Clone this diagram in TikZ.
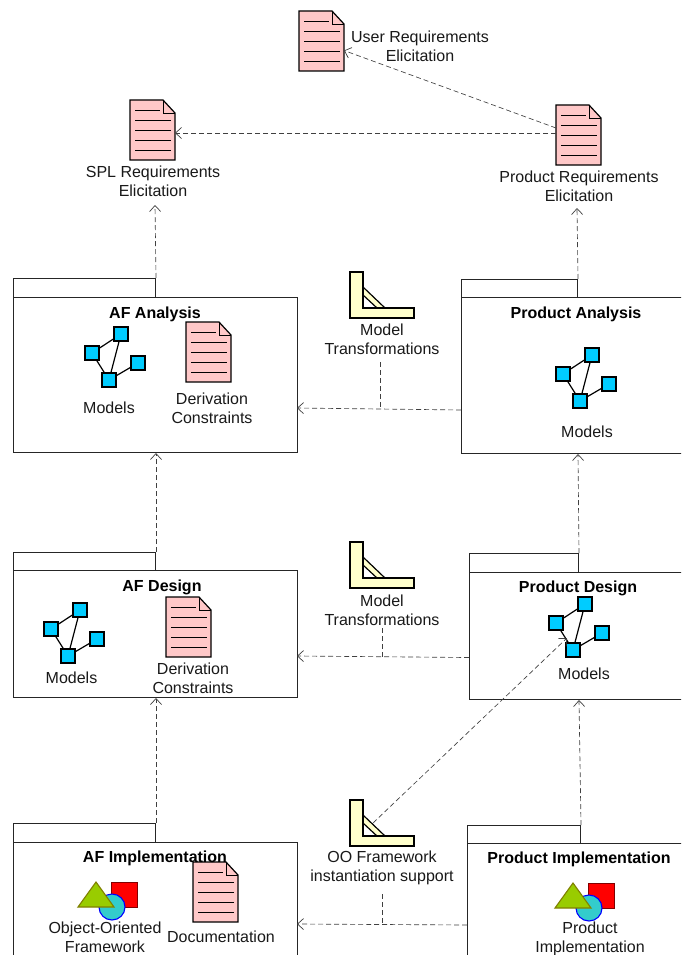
\documentclass[tikz,border=0pt]{standalone}
\usepackage{fontspec}
\setmainfont{Liberation Sans}
\usetikzlibrary{arrows.meta,calc}
\definecolor{docpink}{HTML}{FFC8C8}
\definecolor{cyanbox}{HTML}{00CCFF}
\definecolor{lyellow}{HTML}{FFFFCC}
\definecolor{trifill}{HTML}{99CC00}
\definecolor{triline}{HTML}{808000}
\definecolor{circfill}{HTML}{33CCCC}
\definecolor{sqline}{HTML}{800000}
\tikzset{
  x=1pt,y=-1pt,
  lbl/.style={font=\fontsize{16}{19}\selectfont,align=center,inner sep=0pt,text=black!90},
  blbl/.style={font=\fontsize{16}{19}\selectfont\bfseries,align=center,inner sep=0pt},
  pkg/.style={draw=black!85,line width=1pt,fill=white,inner sep=0pt,anchor=north west},
  ghost/.style={inner sep=0pt,anchor=north west},
  dep/.style={draw=black!75,line width=.65pt,dash pattern=on 5pt off 3pt,-{Straight Barb[length=6pt,width=11pt,line width=.7pt]}},
  stem/.style={draw=black!75,line width=.65pt,dash pattern=on 5pt off 3pt},
  icon/.style={draw=black,line width=1.2pt},
  mbox/.style={draw=black,line width=1.2pt,fill=cyanbox,minimum size=14pt,inner sep=0pt},
}
% name, x, y (top left)
\newcommand{\docicon}[3]{%
  \node[ghost,minimum width=45pt,minimum height=60pt] (#1) at (#2,#3) {};
  \begin{scope}[shift={(#2,#3)}]
    \draw[icon,fill=docpink,line join=miter] (0,0) -- (33,0) -- (45,13) -- (45,60) -- (0,60) -- cycle;
    \draw[icon,line width=.7pt] (33,0) -- (33,13) -- (45,13);
    \draw[black,line width=.9pt] (5,10)--(30,10) (5,20)--(41,20) (5,30)--(41,30) (5,40)--(41,40) (5,50)--(41,50);
  \end{scope}}
% name, x, y (centre of left square)
\newcommand{\modelsicon}[3]{%
  \begin{scope}[shift={(#2,#3)}]
    \draw[icon] (0,0) -- (29,-19) (29,-19) -- (17,27) (0,0) -- (17,27) (17,27) -- (46,10);
    \node[mbox] (#1a) at (0,0) {};
    \node[mbox] (#1b) at (29,-19) {};
    \node[mbox] (#1c) at (46,10) {};
    \node[mbox] (#1d) at (17,27) {};
  \end{scope}}
% name, x, y (top left of L)
\newcommand{\toolicon}[3]{%
  \node[ghost,minimum width=64pt,minimum height=46pt] (#1) at (#2,#3) {};
  \begin{scope}[shift={(#2,#3)}]
    \draw[icon,fill=lyellow,line join=miter] (13,15) -- (35,36) -- (27,36) -- (13,23) -- cycle;
    \draw[icon,fill=lyellow,line join=miter] (0,0) -- (13,0) -- (13,36) -- (64,36) -- (64,46) -- (0,46) -- cycle;
  \end{scope}}
% name, x, y (triangle apex)
\newcommand{\shapesicon}[3]{%
  \node[inner sep=0pt,minimum size=1pt] (#1) at (#2,#3) {};
  \begin{scope}[shift={(#2,#3)}]
    \draw[draw=sqline,line width=.9pt,fill=red] (15,0) rectangle (41,25);
    \draw[draw=blue,line width=1.1pt,fill=circfill] (16,25) circle (13);
    \draw[draw=triline,line width=1.1pt,fill=trifill,line join=miter] (0,0) -- (18,25) -- (-18,25) -- cycle;
  \end{scope}}
\begin{document}
\begin{tikzpicture}
\useasboundingbox (0,0) rectangle (681,955);
\clip (0,0) rectangle (681,955);
\fill[white] (0,0) rectangle (681,955);
% packages
\node[pkg,minimum width=142pt,minimum height=19pt] (afatab) at (13,278) {};
\node[pkg,minimum width=284pt,minimum height=155pt] (afa) at (13,297) {};
\node[pkg,minimum width=116pt,minimum height=18pt] (patab) at (461,279) {};
\node[pkg,minimum width=240pt,minimum height=156pt] (pa) at (461,297) {};
\node[pkg,minimum width=142pt,minimum height=18pt] (afdtab) at (13,552) {};
\node[pkg,minimum width=284pt,minimum height=127pt] (afd) at (13,570) {};
\node[pkg,minimum width=109pt,minimum height=19pt] (pdtab) at (469,553) {};
\node[pkg,minimum width=240pt,minimum height=127pt] (pd) at (469,572) {};
\node[pkg,minimum width=142pt,minimum height=19pt] (afitab) at (13,823) {};
\node[pkg,minimum width=284pt,minimum height=140pt] (afi) at (13,842) {};
\node[pkg,minimum width=113pt,minimum height=18pt] (pitab) at (467,825) {};
\node[pkg,minimum width=240pt,minimum height=140pt] (pi) at (467,843) {};
% icons
\docicon{durq}{299}{11}
\docicon{dprq}{556}{105}
\docicon{dspl}{130}{100}
\docicon{dafa}{186}{322}
\docicon{dafd}{166}{597}
\docicon{dafi}{193}{862}
\modelsicon{ma}{92}{353}
\modelsicon{mp}{563}{374}
\modelsicon{md}{51}{629}
\modelsicon{mq}{556}{623}
\toolicon{t1}{350}{272}
\toolicon{t2}{350}{542}
\toolicon{t3}{350}{800}
\shapesicon{s1}{96}{882}
\shapesicon{s2}{573}{883}
% labels
\node[lbl] (lurq) at (420,46) {User Requirements\\Elicitation};
\node[lbl] (lprq) at (579,186) {Product Requirements\\Elicitation};
\node[lbl] (lspl) at (153,181) {SPL Requirements\\Elicitation};
\node[blbl] (nafa) at (155,314) {AF Analysis};
\node[lbl] (lma) at (109,407.5) {Models};
\node[lbl] (ldafa) at (212,408.5) {Derivation\\Constraints};
\node[lbl] (lt1) at (382,339) {Model\\Transformations};
\node[blbl] (npa) at (576,314) {Product Analysis};
\node[lbl] (lmp) at (587,431.5) {Models};
\node[blbl] (nafd) at (162,587) {AF Design};
\node[lbl] (lmd) at (71.5,677.5) {Models};
\node[lbl] (ldafd) at (193,678) {Derivation\\Constraints};
\node[lbl] (lt2) at (382,610) {Model\\Transformations};
\node[blbl] (npd) at (578,588) {Product Design};
\node[lbl] (lmq) at (584,673.5) {Models};
\node[blbl] (nafi) at (155,858) {AF Implementation};
\node[lbl] (loof) at (105,937.5) {Object-Oriented\\Framework};
\node[lbl] (ldoc) at (221,936.5) {Documentation};
\node[lbl] (lt3) at (382,867.5) {OO Framework\\instantiation support};
\node[blbl] (npi) at (579,859) {Product Implementation};
\node[lbl] (lpi) at (590,939) {Product\\Implementation};
% connector ends
\coordinate (prqa) at (556,128);
\coordinate (urqb) at (344,50.5);
\coordinate (prqc) at (556,133);
\coordinate (splc) at (175,133);
\coordinate (sprq) at (577,208);
\coordinate (sspl) at (155,205);
\coordinate (paout) at (461,410);
\coordinate (afain) at (297,408);
\coordinate (s1a) at (380,362);
\coordinate (s1b) at (380,409);
\coordinate (pdout) at (469,657.5);
\coordinate (afdin) at (297,656);
\coordinate (s2a) at (382,628);
\coordinate (s2b) at (382,656.5);
\coordinate (piout) at (467,925);
\coordinate (afiin) at (297,924);
\coordinate (s3a) at (382,894);
\coordinate (s3b) at (382,924.5);
\coordinate (t3out) at (373,823);
\coordinate (mqin) at (567,638);
% connectors
\draw[dep] (prqa) -- (urqb);
\draw[dep] (prqc) -- (splc);
\draw[dep] (patab.north east) -- (sprq);
\draw[dep] (afatab.north east) -- (sspl);
\draw[dep] (afdtab.north east) -- (afa.south -| afdtab.north east);
\draw[dep] (pdtab.north east) -- (pa.south -| patab.north east);
\draw[dep] (afitab.north east) -- (afd.south -| afitab.north east);
\draw[dep] (pitab.north east) -- (pd.south -| pdtab.north east);
\draw[dep] (paout) -- (afain);
\draw[stem] (s1a) -- (s1b);
\draw[dep] (pdout) -- (afdin);
\draw[stem] (s2a) -- (s2b);
\draw[dep] (piout) -- (afiin);
\draw[stem] (s3a) -- (s3b);
\draw[dep] (t3out) -- (mqin);
\end{tikzpicture}
\end{document}
